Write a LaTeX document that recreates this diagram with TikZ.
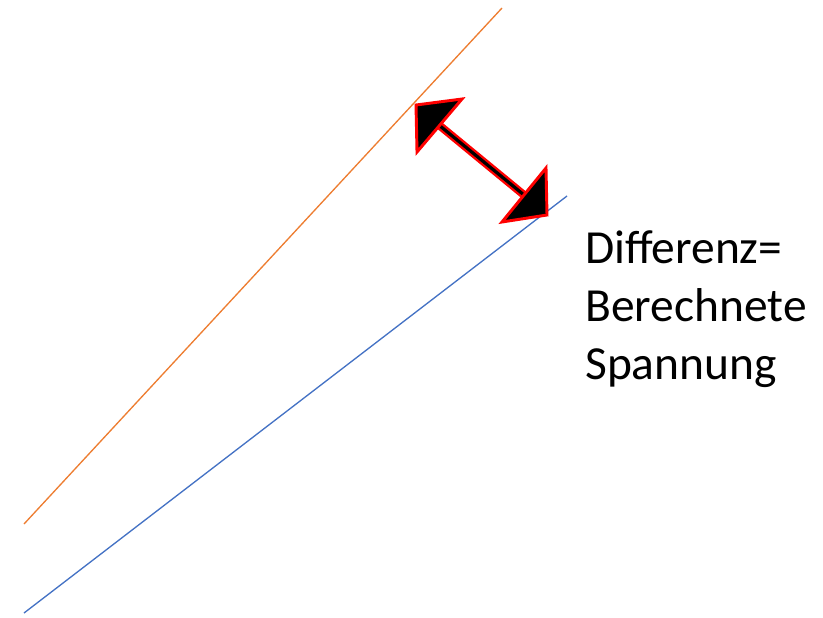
\documentclass[tikz,border=0pt]{standalone}
\usepackage{fontspec}
\setmainfont{Carlito}
\definecolor{lineOrange}{RGB}{237, 125, 49}
\definecolor{lineBlue}{RGB}{68, 114, 196}
\usetikzlibrary{positioning, calc}

\begin{document}
\begin{tikzpicture}[
                x=0.75pt, y=-0.75pt,
                curve/.style={line width=1pt},
                head/.style={draw=red, fill=black, line width=2.2pt, line join=miter},
                shaft/.style={draw=red, line width=6pt},
                core/.style={draw=black, line width=2.4pt},
                label/.style={anchor=north west, align=left, inner sep=0pt, font=\fontsize{35.6}{43.8}\selectfont}
            ]
                \useasboundingbox (0,0) rectangle (823,617);
                % two straight lines
                \coordinate (orangeA) at (24,524);
                \coordinate (orangeB) at (502,8);
                \coordinate (blueA) at (24,613);
                \coordinate (blueB) at (567,196);
                \draw[curve, lineOrange] (orangeA) -- (orangeB);
                \draw[curve, lineBlue] (blueA) -- (blueB);
                % double arrow
                \coordinate (tipUp) at (416,105);
                \coordinate (tipDown) at (547,215);
                \coordinate (baseUp) at (439.5,125.5);
                \coordinate (baseDown) at (524,195);
                \draw[shaft] (baseUp) -- (baseDown);
                \draw[core] ($(baseUp)!-2pt!(baseDown)$) -- ($(baseDown)!-2pt!(baseUp)$);
                \filldraw[head] (tipUp) -- (462,99) -- (417,152) -- cycle;
                \filldraw[head] (tipDown) -- (546,168) -- (502,222) -- cycle;
                % text
                \node[label] (diff) at (585,230) {Differenz=\\Berechnete\\Spannung};
            \end{tikzpicture}
\end{document}
